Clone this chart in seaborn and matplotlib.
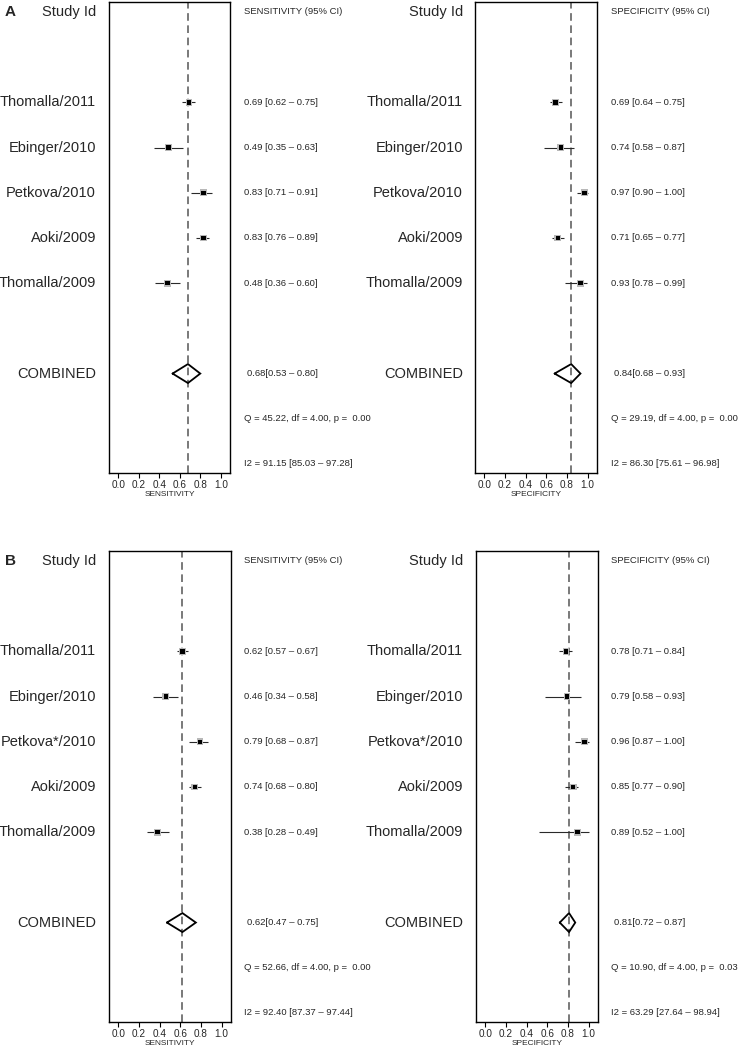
import matplotlib
matplotlib.use("Agg")
import matplotlib.pyplot as plt
import seaborn as sns
import pandas as pd
from matplotlib.transforms import blended_transform_factory

# ---------------- data ----------------
studies_A = ["Thomalla/2011", "Ebinger/2010", "Petkova/2010", "Aoki/2009", "Thomalla/2009"]
studies_B = ["Thomalla/2011", "Ebinger/2010", "Petkova*/2010", "Aoki/2009", "Thomalla/2009"]

sens_A = [0.69, 0.49, 0.83, 0.83, 0.48]
sens_A_lo = [0.62, 0.35, 0.71, 0.76, 0.36]
sens_A_hi = [0.75, 0.63, 0.91, 0.89, 0.60]
sens_A_comb = [0.68, 0.53, 0.80]
sens_A_q = "Q = 45.22, df = 4.00, p =  0.00"
sens_A_i2 = "I2 = 91.15 [85.03 \u2013 97.28]"

spec_A = [0.69, 0.74, 0.97, 0.71, 0.93]
spec_A_lo = [0.64, 0.58, 0.90, 0.65, 0.78]
spec_A_hi = [0.75, 0.87, 1.00, 0.77, 0.99]
spec_A_comb = [0.84, 0.68, 0.93]
spec_A_q = "Q = 29.19, df = 4.00, p =  0.00"
spec_A_i2 = "I2 = 86.30 [75.61 \u2013 96.98]"

sens_B = [0.62, 0.46, 0.79, 0.74, 0.38]
sens_B_lo = [0.57, 0.34, 0.68, 0.68, 0.28]
sens_B_hi = [0.67, 0.58, 0.87, 0.80, 0.49]
sens_B_comb = [0.62, 0.47, 0.75]
sens_B_q = "Q = 52.66, df = 4.00, p =  0.00"
sens_B_i2 = "I2 = 92.40 [87.37 \u2013 97.44]"

spec_B = [0.78, 0.79, 0.96, 0.85, 0.89]
spec_B_lo = [0.71, 0.58, 0.87, 0.77, 0.52]
spec_B_hi = [0.84, 0.93, 1.00, 0.90, 1.00]
spec_B_comb = [0.81, 0.72, 0.87]
spec_B_q = "Q = 10.90, df = 4.00, p =  0.03"
spec_B_i2 = "I2 = 63.29 [27.64 \u2013 98.94]"

ticks = [0.0, 0.2, 0.4, 0.6, 0.8, 1.0]
tick_labels = ["0.0", "0.2", "0.4", "0.6", "0.8", "1.0"]

# ---------------- style ----------------
sns.set_style("white")
plt.rcParams["font.family"] = ["Liberation Sans", "DejaVu Sans"]

W, H = 741, 1048
fig = plt.figure(figsize=(W / 100, H / 100), dpi=100)


def fx(px):
    return px / W


def fy(py):
    return 1 - py / H


def panel(box, studies, est, lo, hi, comb, q, i2, header, xlabel, label_x, text_x):
    l, r, t, b = box
    ax = fig.add_axes([fx(l), fy(b), fx(r) - fx(l), fy(t) - fy(b)])
    rows = [2, 3, 4, 5, 6]
    df = pd.DataFrame({"study": studies, "est": est, "lo": lo, "hi": hi, "row": rows})

    ax.axvline(comb[0], color="#555555", lw=1.1, ls=(0, (5, 3)), zorder=1)
    ax.hlines(df["row"], df["lo"], df["hi"], color="#2a2a2a", lw=0.8, zorder=2)
    sns.scatterplot(data=df, x="est", y="row", marker="s", s=24, color="#b8b8b8",
                    edgecolor="none", ax=ax, zorder=3, legend=False)
    sns.scatterplot(data=df, x="est", y="row", marker="s", s=10, color="black",
                    edgecolor="none", ax=ax, zorder=4, legend=False)

    # combined diamond
    c, clo, chi = comb
    hh = 0.21
    ax.plot([clo, c, chi, c, clo], [8, 8 - hh, 8, 8 + hh, 8], color="black", lw=1.3,
            zorder=5, solid_joinstyle="miter")

    ax.set_xlim(-0.09, 1.09)
    ax.set_ylim(10.2, -0.22)
    ax.set_yticks([])
    ax.set_ylabel("")
    ax.set_xticks(ticks)
    ax.set_xticklabels(tick_labels, fontsize=7.2)
    ax.tick_params(axis="x", direction="out", length=3.5, width=0.8, pad=1.5,
                   bottom=True, color="black")
    ax.set_xlabel(xlabel, fontsize=6, labelpad=0.5)
    for s in ax.spines.values():
        s.set_visible(True)
        s.set_color("black")
        s.set_linewidth(1.0)

    tr = blended_transform_factory(fig.transFigure, ax.transData)
    ax.text(fx(label_x), 0, "Study Id", transform=tr, ha="right", va="center",
            fontsize=10.5, clip_on=False)
    ax.text(fx(text_x), 0, header, transform=tr, ha="left", va="center",
            fontsize=6.8, clip_on=False)
    for _, rw in df.iterrows():
        ax.text(fx(label_x), rw["row"], rw["study"], transform=tr, ha="right",
                va="center", fontsize=10.5, clip_on=False)
        ax.text(fx(text_x), rw["row"], f"{rw['est']:.2f} [{rw['lo']:.2f} \u2013 {rw['hi']:.2f}]",
                transform=tr, ha="left", va="center", fontsize=6.8, clip_on=False)
    ax.text(fx(label_x), 8, "COMBINED", transform=tr, ha="right", va="center",
            fontsize=10.5, clip_on=False)
    ax.text(fx(text_x + 3), 8, f"{c:.2f}[{clo:.2f} \u2013 {chi:.2f}]", transform=tr,
            ha="left", va="center", fontsize=6.8, clip_on=False)
    ax.text(fx(text_x), 9, q, transform=tr, ha="left", va="center", fontsize=6.8, clip_on=False)
    ax.text(fx(text_x), 10, i2, transform=tr, ha="left", va="center", fontsize=6.8, clip_on=False)
    return ax


panel((109, 230, 2, 473), studies_A, sens_A, sens_A_lo, sens_A_hi, sens_A_comb,
      sens_A_q, sens_A_i2, "SENSITIVITY (95% CI)", "SENSITIVITY", 96, 244)
panel((475, 597, 2, 473), studies_A, spec_A, spec_A_lo, spec_A_hi, spec_A_comb,
      spec_A_q, spec_A_i2, "SPECIFICITY (95% CI)", "SPECIFICITY", 463, 611)
panel((109, 231, 551, 1022), studies_B, sens_B, sens_B_lo, sens_B_hi, sens_B_comb,
      sens_B_q, sens_B_i2, "SENSITIVITY (95% CI)", "SENSITIVITY", 96, 244)
panel((476, 598, 551, 1022), studies_B, spec_B, spec_B_lo, spec_B_hi, spec_B_comb,
      spec_B_q, spec_B_i2, "SPECIFICITY (95% CI)", "SPECIFICITY", 463, 611)

fig.text(fx(5), fy(12), "A", ha="left", va="center", fontsize=11, fontweight="bold")
fig.text(fx(5), fy(561), "B", ha="left", va="center", fontsize=11, fontweight="bold")

fig.savefig("out.png", dpi=100)
